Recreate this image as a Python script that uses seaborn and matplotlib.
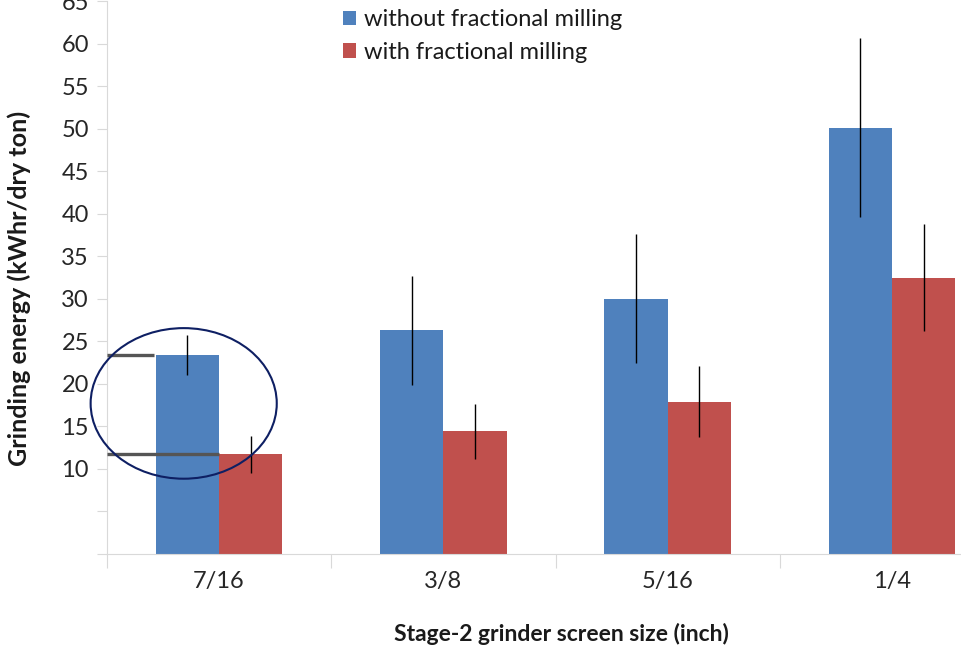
import matplotlib
matplotlib.use("Agg")
import matplotlib.pyplot as plt
from matplotlib.patches import Ellipse, Patch
import seaborn as sns
import pandas as pd
import numpy as np

categories = ["7/16", "3/8", "5/16", "1/4"]
series_names = ["without fractional milling", "with fractional milling"]
without_vals = [23.4, 26.3, 30.0, 50.1]
without_err = [2.4, 6.4, 7.6, 10.5]
with_vals = [11.7, 14.4, 17.9, 32.5]
with_err = [2.2, 3.2, 4.2, 6.3]
ytick_vals = [0, 5, 10, 15, 20, 25, 30, 35, 40, 45, 50, 55, 60, 65]
ytick_labels = ["", "", "10", "15", "20", "25", "30", "35", "40", "45", "50", "55", "60", "65"]

colors = ["#4F81BD", "#C0504D"]

sns.set_theme(style="white")
plt.rcParams["font.family"] = ["Lato", "DejaVu Sans"]

df = pd.DataFrame({
    "size": categories * 2,
    "energy": without_vals + with_vals,
    "err": without_err + with_err,
    "series": [series_names[0]] * 4 + [series_names[1]] * 4,
})

W, H = 961, 649
fig = plt.figure(figsize=(W / 100, H / 100), dpi=100)
ax_l, ax_r, ax_b, ax_t = 107, 1004, 554, 1.0
ax = fig.add_axes([ax_l / W, (H - ax_b) / H, (ax_r - ax_l) / W, (ax_b - ax_t) / H])

sns.barplot(data=df, x="size", y="energy", hue="series", palette=colors,
            order=categories, hue_order=series_names, width=0.565,
            errorbar=None, saturation=1, ax=ax, legend=False, linewidth=0)

for cont, errs in zip(ax.containers, [without_err, with_err]):
    for patch, e in zip(cont.patches, errs):
        xc = patch.get_x() + patch.get_width() / 2
        h = patch.get_height()
        ax.errorbar(xc, h, yerr=e, fmt="none", ecolor="black", elinewidth=1.0,
                    capsize=0, zorder=5)

ax.set_xlim(-0.5, 3.5)
ax.set_ylim(0, 65)
ax.set_yticks(ytick_vals)
ax.set_yticklabels(ytick_labels, fontsize=17, color="#262626")
ax.tick_params(axis="y", which="major", length=7, width=0.8, color="#D9D9D9",
               direction="out", pad=6, left=True)
ax.set_xticks(range(len(categories)))
ax.set_xticklabels(categories, fontsize=17, color="#262626")
ax.set_xticks([-0.5, 0.5, 1.5, 2.5, 3.5], minor=True)
ax.tick_params(axis="x", which="major", length=0, pad=12)
ax.tick_params(axis="x", which="minor", length=10, width=0.8, color="#D9D9D9",
               direction="out", bottom=True)

for s in ["top", "right"]:
    ax.spines[s].set_visible(False)
for s in ["left", "bottom"]:
    ax.spines[s].set_color("#D9D9D9")
    ax.spines[s].set_linewidth(0.8)

ax.set_xlabel("Stage-2 grinder screen size (inch)", fontsize=16, fontweight="bold",
              color="#1a1a1a")
ax.set_ylabel("Grinding energy (kWhr/dry ton)", fontsize=16, fontweight="bold",
              color="#1a1a1a")
ax.xaxis.label.set_verticalalignment("center")
ax.yaxis.label.set_verticalalignment("center")
ax.yaxis.label.set_horizontalalignment("center")
ax.xaxis.set_label_coords((561 - ax_l) / (ax_r - ax_l), -(634 - ax_b) / (ax_b - ax_t))
ax.yaxis.set_label_coords(-(ax_l - 19) / (ax_r - ax_l), (ax_b - 288) / (ax_b - ax_t))

# annotation
b0 = ax.containers[0].patches[0]
r0 = ax.containers[1].patches[0]
ax.plot([-0.5, b0.get_x() - 0.01], [without_vals[0], without_vals[0]],
        color="#555555", lw=2.4, zorder=6, solid_capstyle="butt")
ax.plot([-0.5, r0.get_x()], [with_vals[0], with_vals[0]],
        color="#555555", lw=2.4, zorder=6, solid_capstyle="butt")
ell = Ellipse(xy=(-0.158, 17.7), width=0.83, height=17.7, fill=False,
              edgecolor="#0E1F63", lw=1.5, zorder=7, clip_on=False)
ax.add_patch(ell)

handles = [Patch(facecolor=c, edgecolor="none") for c in colors]
leg = fig.legend(handles, series_names, loc="upper left",
                 bbox_to_anchor=(343 / W, 1 - 9 / H), frameon=False,
                 fontsize=17, handlelength=0.55, handleheight=0.55,
                 handletextpad=0.32, labelspacing=0.5, borderaxespad=0,
                 borderpad=0, labelcolor="#1a1a1a")

fig.canvas.draw()
r = fig.canvas.get_renderer()
def fit(t, target, horiz=True):
    bb = t.get_window_extent(r)
    cur = bb.width if horiz else bb.height
    t.set_fontsize(t.get_fontsize() * target / cur)
fit(ax.xaxis.label, 336)
fit(ax.yaxis.label, 356, horiz=False)
fit(leg.get_texts()[0], 258)
leg.get_texts()[1].set_fontsize(leg.get_texts()[0].get_fontsize())

fig.savefig("out.png", dpi=100)
